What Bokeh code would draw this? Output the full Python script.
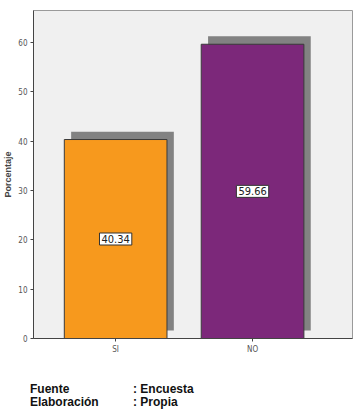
from bokeh.plotting import figure
from bokeh.models import ColumnDataSource, Label, FixedTicker, Range1d, Div
from bokeh.layouts import column
from bokeh.embed import file_html
from bokeh.resources import INLINE

categories = ["SI", "NO"]
values = [40.34, 59.66]
colors = ["#F7991D", "#7C287A"]
y_ticks = [0, 10, 20, 30, 40, 50, 60]
footer_keys = ["Fuente", "Elaboración"]
footer_vals = [": Encuesta", ": Propia"]

xs = list(range(len(categories)))
bw = 0.75
sx, sy = 0.05, 1.6

src = ColumnDataSource(dict(
    x=xs, top=values, color=colors,
    sx=[v + sx for v in xs], stop=[v + sy for v in values],
))

p = figure(width=356, height=366, output_backend="svg", toolbar_location=None,
           x_range=Range1d(-0.6, 1.73), y_range=Range1d(0, 66.5),
           min_border_left=26, min_border_right=4, min_border_top=10, min_border_bottom=28)
p.background_fill_color = "#F0F0F0"
p.border_fill_color = "white"
p.outline_line_color = "#9a9a9a"
p.grid.visible = False

p.vbar(x="sx", bottom=sy, top="stop", width=bw, source=src, fill_color="#828282", line_color=None)
p.vbar(x="x", bottom=0, top="top", width=bw, source=src, fill_color="color", line_color="#3a3a3a", line_width=1)

cond = "DejaVu Sans Condensed"
for xv, v in zip(xs, values):
    p.add_layout(Label(x=xv, y=v / 2, text=f"{v:.2f}", text_align="center", text_baseline="middle",
                       text_font=cond, text_font_size="11px", text_color="#222222",
                       background_fill_color="white", border_line_color="#333333",
                       border_line_width=1, padding=2))

p.yaxis.ticker = FixedTicker(ticks=y_ticks)
p.xaxis.ticker = FixedTicker(ticks=xs)
p.xaxis.major_label_overrides = {i: c for i, c in enumerate(categories)}
for ax in (p.xaxis[0], p.yaxis[0]):
    ax.minor_tick_line_color = None
    ax.major_tick_in = 0
    ax.major_tick_out = 3
    ax.axis_line_color = "#444444"
    ax.major_tick_line_color = "#444444"
    ax.major_label_text_font = cond
    ax.major_label_text_font_size = "8px"
    ax.major_label_text_color = "#555555"
    ax.major_label_standoff = 3
p.yaxis.axis_label = "Porcentaje"
p.yaxis.axis_label_text_font = "Liberation Sans"
p.yaxis.axis_label_text_font_size = "9px"
p.yaxis.axis_label_text_font_style = "bold"
p.yaxis.axis_label_standoff = 2

rows = "".join(
    f"<tr><td style='width:103px;padding:0'>{k}</td><td style='padding:0'>{v}</td></tr>"
    for k, v in zip(footer_keys, footer_vals))
footer = Div(text=f"<table style='border-collapse:collapse;font-family:\"Liberation Sans\";"
                  f"font-size:12px;font-weight:bold;color:#111;line-height:13px'>{rows}</table>",
             width=356, height=45, margin=(0, 0, 0, 0),
             styles={"padding-left": "30px", "padding-top": "17px", "box-sizing": "border-box"})

layout = column(p, footer, spacing=0)
open("out.html", "w").write(file_html(layout, INLINE))
